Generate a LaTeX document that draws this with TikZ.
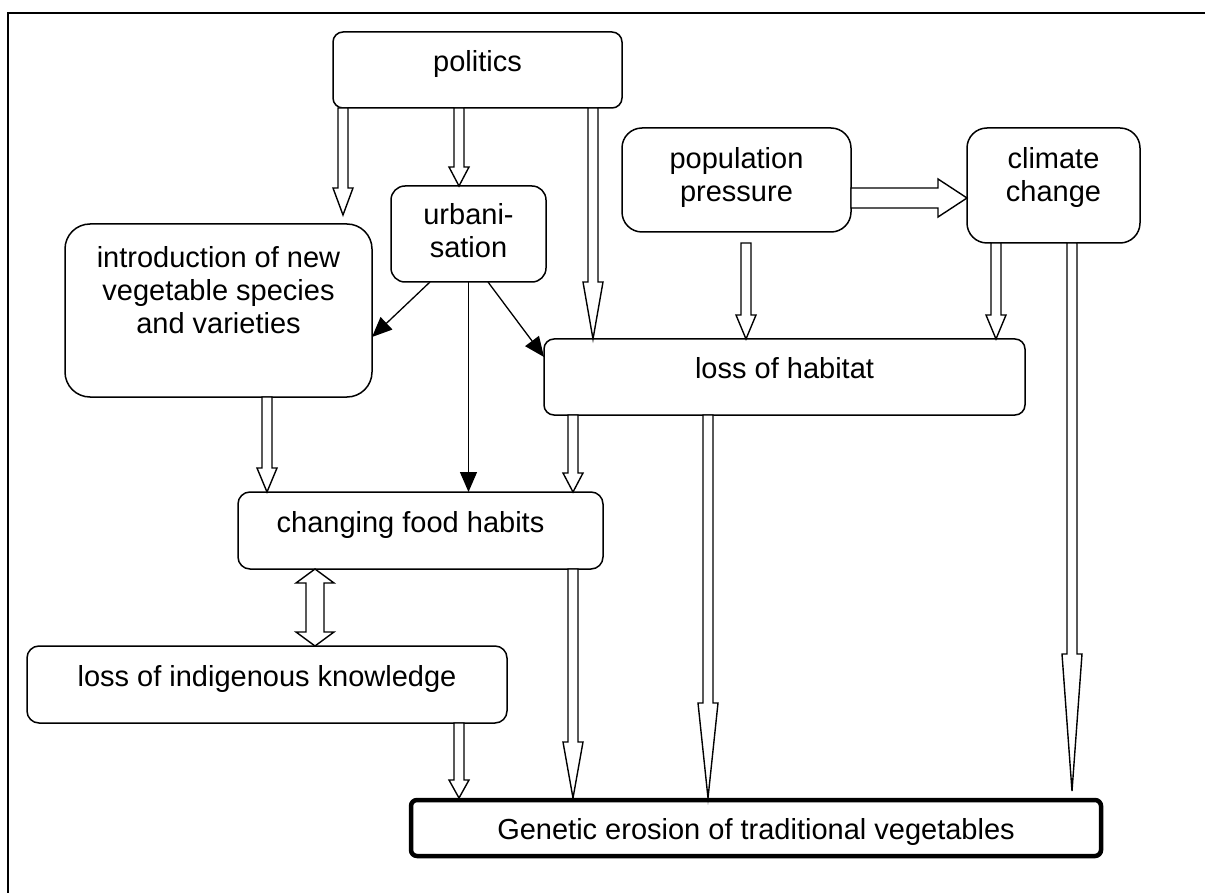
\documentclass[tikz,border=0pt]{standalone}
\usepackage{fontspec}
\setmainfont{Liberation Sans}
\usetikzlibrary{arrows.meta,calc}
\newcommand\fs{\fontsize{29}{33}\selectfont}
% vertical block arrow (down): from, to, shaft half width, head half width, head length
\newcommand\vblock[5]{%
  \draw[blockarrow] let \p1=(#1), \p2=(#2) in
    (\x1-#3pt,\y1) -- (\x1-#3pt,\y2+#5pt) -- (\x1-#4pt,\y2+#5pt) -- (\x1,\y2)
    -- (\x1+#4pt,\y2+#5pt) -- (\x1+#3pt,\y2+#5pt) -- (\x1+#3pt,\y1) -- cycle;}
% double-headed vertical block arrow
\newcommand\dblock[5]{%
  \draw[blockarrow] let \p1=(#1), \p2=(#2) in
    (\x1,\y1) -- (\x1+#4pt,\y1-#5pt) -- (\x1+#3pt,\y1-#5pt) -- (\x1+#3pt,\y2+#5pt)
    -- (\x1+#4pt,\y2+#5pt) -- (\x1,\y2) -- (\x1-#4pt,\y2+#5pt) -- (\x1-#3pt,\y2+#5pt)
    -- (\x1-#3pt,\y1-#5pt) -- (\x1-#4pt,\y1-#5pt) -- cycle;}
% horizontal block arrow (right)
\newcommand\hblock[5]{%
  \draw[blockarrow] let \p1=(#1), \p2=(#2) in
    (\x1,\y1+#3pt) -- (\x2-#5pt,\y1+#3pt) -- (\x2-#5pt,\y1+#4pt) -- (\x2,\y1)
    -- (\x2-#5pt,\y1-#4pt) -- (\x2-#5pt,\y1-#3pt) -- (\x1,\y1-#3pt) -- cycle;}
\begin{document}
\begin{tikzpicture}[x=1pt,y=-1pt,
  box/.style={draw, line width=1.5pt, rounded corners=10pt, inner sep=0pt, outer sep=0pt, fill=white},
  txt/.style={font=\fs, align=center, inner sep=0pt},
  blockarrow/.style={draw, fill=white, line width=1.4pt, line join=miter},
  thinarrow/.style={line width=1.3pt, -{Triangle[length=20pt,width=17pt]}}]
\useasboundingbox (0,0) rectangle (1205,893);
\draw[line width=2pt] (1206,12.7) -- (7.5,12.7) -- (7.5,894);

\node[box, minimum width=289pt, minimum height=76pt,
  label={[txt, name=politics-t, yshift=4.6pt]center:\strut politics}] (politics) at (477.5,70) {};
\node[box, rounded corners=20pt, minimum width=229pt, minimum height=104pt,
  label={[txt, name=pop-t, yshift=1.6pt]center:\strut population\\\strut pressure}] (pop) at (736.5,180) {};
\node[box, rounded corners=20pt, minimum width=173pt, minimum height=115pt,
  label={[txt, name=climate-t, yshift=7pt]center:\strut climate\\\strut change}] (climate) at (1053.5,185.5) {};
\node[box, rounded corners=14pt, minimum width=155pt, minimum height=96pt,
  label={[txt, name=urb-t]center:\strut urbani-\\\strut sation}] (urb) at (468.5,234) {};
\node[box, rounded corners=25pt, minimum width=307pt, minimum height=173pt,
  label={[txt, name=intro-t, yshift=17pt]center:\strut introduction of new\\\strut vegetable species\\\strut and varieties}] (intro) at (218.5,310.5) {};
\node[box, minimum width=481pt, minimum height=76pt,
  label={[txt, name=habitat-t, yshift=5.6pt]center:\strut loss of habitat}] (habitat) at (784.5,377) {};
\node[box, rounded corners=12pt, minimum width=365pt, minimum height=77pt,
  label={[txt, name=food-t, yshift=5pt, xshift=-10pt]center:\strut changing food habits}] (food) at (420.5,530.5) {};
\node[box, rounded corners=12pt, minimum width=480pt, minimum height=77pt,
  label={[txt, name=indig-t, yshift=5pt]center:\strut loss of indigenous knowledge}] (indig) at (267,684.5) {};
\node[box, line width=4.5pt, rounded corners=6pt, minimum width=690pt, minimum height=56pt,
  label={[txt, name=genetic-t, yshift=-4.4pt]center:\strut Genetic erosion of traditional vegetables}] (genetic) at (756,828) {};

% block arrows
\vblock{[xshift=10pt]politics.south west}{[yshift=9pt]intro.north}{5}{10}{27}
\vblock{[xshift=-18.5pt]politics.south}{urb.north}{5}{10}{19}
\vblock{[xshift=-29pt]politics.south east}{habitat.north}{5}{10}{57}
\vblock{[xshift=9.5pt,yshift=-11pt]pop.south}{habitat.north}{5}{10}{24}
\vblock{[xshift=29pt]climate.south west}{habitat.north}{5}{10}{24}
\vblock{[xshift=105pt]climate.south west}{[yshift=9pt]genetic.north}{5}{10}{137}
\vblock{[xshift=48.5pt]intro.south}{food.north}{5}{10}{24}
\vblock{[xshift=29pt]habitat.south west}{food.north}{5}{10}{19}
\vblock{[xshift=-30pt]food.south east}{[yshift=2pt]genetic.north}{5}{10}{56}
\vblock{[xshift=164pt]habitat.south west}{[yshift=2pt]genetic.north}{5}{10}{95}
\vblock{[xshift=-48pt]indig.south east}{[yshift=2pt]genetic.north}{5}{10}{18}
\dblock{[xshift=77pt]food.south west}{indig.north}{9}{19}{14}
\hblock{[yshift=-18pt]pop.east}{climate.west}{10}{19}{29}

% thin arrows from urbanisation
\draw[thinarrow] ([xshift=39pt]urb.south west) -- ([yshift=-26.5pt]intro.east);
\draw[thinarrow] ([xshift=97pt]urb.south west) -- ([yshift=20pt]habitat.west);
\draw[thinarrow] (urb.south) -- (urb.south |- food.north);
\end{tikzpicture}
\end{document}
